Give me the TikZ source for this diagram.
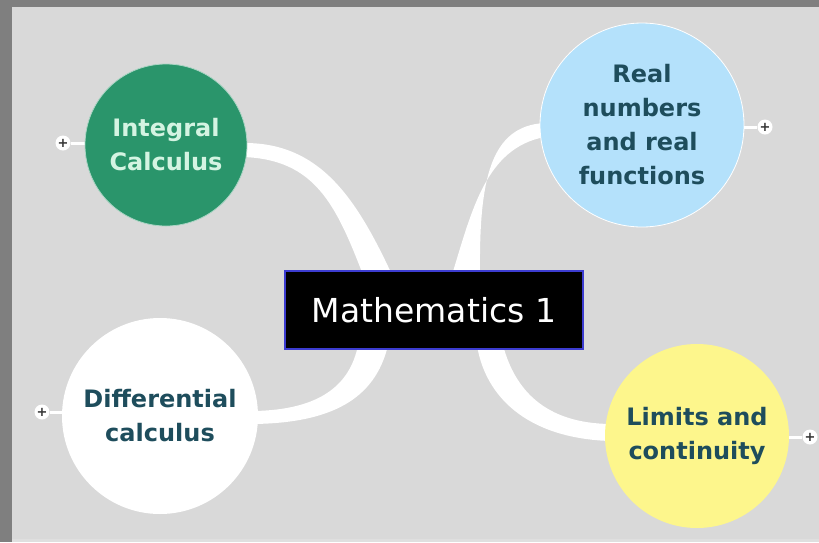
\documentclass[tikz,border=0pt]{standalone}
\usepackage{fontspec}
\setmainfont{DejaVu Sans}
\usetikzlibrary{calc}
\pgfdeclarelayer{bg}
\pgfsetlayers{bg,main}
\definecolor{outerg}{HTML}{7F7F7F}
\definecolor{bgc}{HTML}{D9D9D9}
\definecolor{greenc}{HTML}{2A956B}
\definecolor{bluec}{HTML}{B4E1FB}
\definecolor{yellowc}{HTML}{FDF68C}
\definecolor{textc}{HTML}{1E4D5C}
\definecolor{mintc}{HTML}{D4F4E2}
\definecolor{boxblue}{HTML}{3C3CD0}
\begin{document}
\begin{tikzpicture}[x=1pt,y=-1pt,
  topic/.style={circle, minimum size=#1, inner sep=0pt, align=center,
    font=\bfseries\fontsize{24}{34}\selectfont, text=textc},
  plus/.style={circle, fill=white, minimum size=15pt, inner sep=0pt,
    font=\bfseries\fontsize{13}{13}\selectfont, text=black!80},
  link/.style={fill=white},
  stub/.style={draw=white, line width=3pt}]
\useasboundingbox (0,0) rectangle (819,542);

% nodes
\node[topic=162pt, fill=greenc, draw=greenc!40!white, line width=0.8pt, text=mintc] (integ) at (166,145) {Integral\\Calculus};
\node[topic=204pt, fill=bluec, draw=white, line width=0.8pt] (real) at (642,125) {Real\\numbers\\and real\\functions};
\node[topic=196pt, fill=white] (diff) at (160,416) {Differential\\calculus};
\node[topic=184pt, fill=yellowc] (lim) at (697,436) {Limits and\\continuity};
\node[fill=black, draw=boxblue, line width=2.5pt, minimum width=298pt, minimum height=78pt,
  text=white, font=\fontsize{33}{33}\selectfont] (math) at (434,310) {Mathematics 1};

\node[plus] (p1) at (63,143) {+};
\node[plus] (p2) at (765,127) {+};
\node[plus] (p3) at (42,412) {+};
\node[plus] (p4) at (810,437) {+};

\begin{pgfonlayer}{bg}
\fill[outerg] (0,0) rectangle (819,542);
\fill[bgc] (12,7) rectangle (819,542);
\fill[bgc!85!white] (12,539) rectangle (819,542);

\draw[stub] (p1) -- (p1 -| integ.center);
\draw[stub] (p2) -- (p2 -| real.center);
\draw[stub] (p3) -- (p3 -| diff.center);
\draw[stub] (p4) -- (p4 -| lim.center);

% upper left
\fill[link] ($(integ.east)+(-5,-2)$) .. controls (318,142) and (355,195) .. ($(math.north)+(-42,5)$)
  -- ($(math.north)+(-71,5)$) .. controls (336,205) and (315,159) .. ($(integ.east)+(-5,12)$) -- cycle;
% upper right
\fill[link] ($(real.west)+(5,-2)$) .. controls (490,126) and (479,180) .. ($(math.north)+(46,5)$)
  -- ($(math.north)+(18,5)$) .. controls (472,210) and (486,148) .. ($(real.west)+(5,12)$) -- cycle;
% lower left
\fill[link] ($(diff.east)+(-5,-5)$) .. controls (320,410) and (350,385) .. ($(math.south)+(-76,-5)$)
  -- ($(math.south)+(-46,-5)$) .. controls (375,400) and (330,423) .. ($(diff.east)+(-5,8)$) -- cycle;
% lower right
\fill[link] ($(math.south)+(43,-5)$) .. controls (485,395) and (525,438) .. ($(lim.west)+(5,5)$)
  -- ($(lim.west)+(5,-12)$) .. controls (545,423) and (515,390) .. ($(math.south)+(69,-5)$) -- cycle;
\end{pgfonlayer}
\end{tikzpicture}
\end{document}
